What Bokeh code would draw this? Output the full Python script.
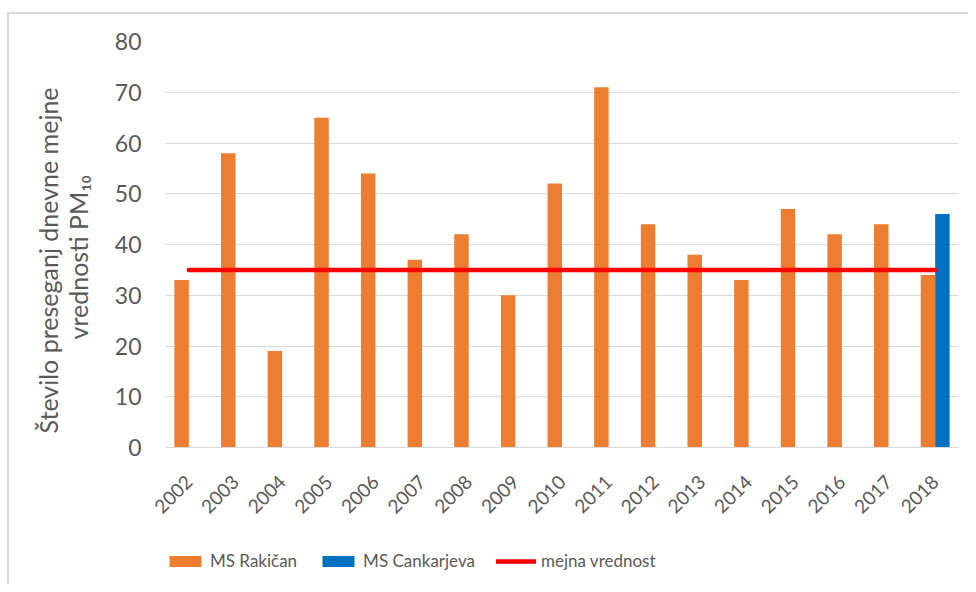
import math
from bokeh.plotting import figure
from bokeh.layouts import column
from bokeh.models import (ColumnDataSource, FactorRange, Legend, LegendItem,
                          FixedTicker)
from bokeh.transform import dodge
from bokeh.embed import file_html
from bokeh.resources import INLINE

years = ["2002", "2003", "2004", "2005", "2006", "2007", "2008", "2009", "2010",
         "2011", "2012", "2013", "2014", "2015", "2016", "2017", "2018"]
rakican = [33, 58, 19, 65, 54, 37, 42, 30, 52, 71, 44, 38, 33, 47, 42, 44, 34]
cankarjeva_years = ["2018"]
cankarjeva = [46]
limit_value = 35
limit = [limit_value] * len(years)
y_ticks = list(range(0, 81, 10))
series_names = ["MS Rakičan", "MS Cankarjeva", "mejna vrednost"]

FONT = "Lato"
TXT = "#595959"
ORANGE = "#ED7D31"
BLUE = "#0070C0"
RED = "#FF0000"
BORDER = "#D9D9D9"
NB = "\u00A0"

p = figure(x_range=FactorRange(*years, range_padding=0, factor_padding=0),
           y_range=(0, 80), width=968, height=525,
           output_backend="svg", toolbar_location=None,
           min_border_left=165, min_border_right=10,
           min_border_top=41, min_border_bottom=78)
p.outline_line_color = None
p.background_fill_color = "white"
p.border_fill_alpha = 0
p.styles = {
    "background": f"linear-gradient({BORDER},{BORDER}) 7px 12px / 100% 2px no-repeat, "
                  f"linear-gradient({BORDER},{BORDER}) 7px 12px / 2px 100% no-repeat, white"
}

src_r = ColumnDataSource(dict(year=years, v=rakican))
src_c = ColumnDataSource(dict(year=cankarjeva_years, v=cankarjeva))
src_l = ColumnDataSource(dict(year=years, v=limit))

p.vbar(x=dodge("year", -0.155, range=p.x_range), top="v", width=0.31,
       source=src_r, fill_color=ORANGE, line_color=None)
p.vbar(x=dodge("year", 0.155, range=p.x_range), top="v", width=0.31,
       source=src_c, fill_color=BLUE, line_color=None)
p.line(x="year", y="v", source=src_l, line_color=RED,
       line_width=4.5, line_cap="round")

p.yaxis.ticker = FixedTicker(ticks=y_ticks)
p.yaxis.axis_line_color = None
p.yaxis.major_tick_line_color = None
p.yaxis.minor_tick_line_color = None
p.yaxis.major_label_text_font = FONT
p.yaxis.major_label_text_font_size = "23px"
p.yaxis.major_label_text_color = TXT
p.yaxis.major_label_standoff = 18
p.yaxis.axis_label = ("Število preseganj dnevne mejne" + NB * 5 +
                      "\nvrednosti PM₁₀" + NB * 4)
p.yaxis.axis_label_text_font = FONT
p.yaxis.axis_label_text_font_size = "25px"
p.yaxis.axis_label_text_font_style = "normal"
p.yaxis.axis_label_text_color = TXT
p.yaxis.axis_label_text_line_height = 1.0
p.yaxis.axis_label_standoff = 19

p.xaxis.axis_line_color = BORDER
p.xaxis.major_tick_line_color = None
p.xaxis.minor_tick_line_color = None
p.xaxis.major_label_orientation = math.pi / 4
p.xaxis.major_label_text_font = FONT
p.xaxis.major_label_text_font_size = "19px"
p.xaxis.major_label_text_color = TXT
p.xaxis.major_label_standoff = 25

p.xgrid.grid_line_color = None
p.ygrid.grid_line_color = BORDER
p.ygrid.grid_line_width = 1

# legend strip below the chart (its frame is aligned with the chart's frame)
leg = figure(width=968, height=59, x_range=(0, 1), y_range=(0, 1),
             output_backend="svg", toolbar_location=None,
             x_axis_location=None, y_axis_location=None,
             min_border=0)
leg.outline_line_color = None
leg.grid.visible = False
leg.background_fill_alpha = 0
leg.border_fill_alpha = 0
leg.styles = {
    "background": f"linear-gradient({BORDER},{BORDER}) 7px 0px / 2px 100% no-repeat, white"
}
# hidden stand-in renderers that only provide the legend swatches
lr1 = leg.vbar(x=[0], top=[0], width=0.1, fill_color=ORANGE, line_color=None,
               visible=False)
lr2 = leg.vbar(x=[0], top=[0], width=0.1, fill_color=BLUE, line_color=None,
               visible=False)
lr3 = leg.line(x=[0], y=[0], line_color=RED, line_width=4.5, line_cap="round",
               visible=False)
legend = Legend(items=[LegendItem(label=series_names[0], renderers=[lr1]),
                       LegendItem(label=series_names[1], renderers=[lr2]),
                       LegendItem(label=series_names[2], renderers=[lr3])],
                orientation="horizontal", location=(0, 13),
                glyph_width=40, glyph_height=14, spacing=21, padding=0, margin=0,
                label_text_font=FONT, label_text_font_size="17px",
                label_text_color=TXT, label_standoff=5,
                border_line_color=None, background_fill_alpha=0)
leg.add_layout(legend, "center")

layout = column(p, leg, spacing=0)
open("out.html", "w").write(file_html(layout, INLINE))
